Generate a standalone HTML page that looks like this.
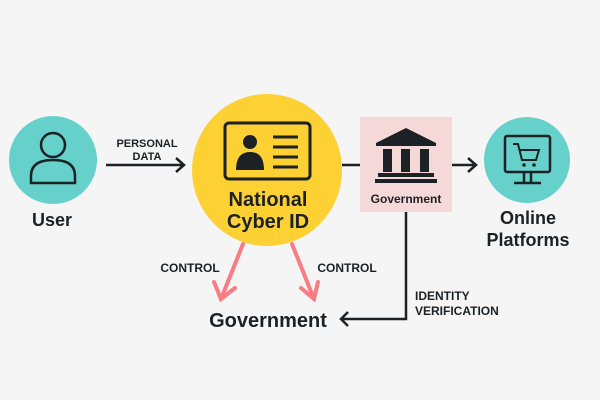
<!DOCTYPE html>
<html><head><meta charset="utf-8"><style>
html,body{margin:0;padding:0;background:#f5f5f5;}
svg{display:block;}
text{font-family:"Liberation Sans",sans-serif;font-weight:bold;fill:#1c2125;}
</style></head><body>
<svg width="600" height="400" viewBox="0 0 600 400">
<rect width="600" height="400" fill="#f5f5f5"/>
<!-- User -->
<circle cx="53" cy="160" r="44" fill="#66d0cb"/>
<circle cx="53" cy="145" r="12" fill="none" stroke="#1c2125" stroke-width="2.5"/>
<path d="M31 183 L31 176 Q31 160 53 160 Q75 160 75 176 L75 183 Z" fill="none" stroke="#1c2125" stroke-width="2.5"/>
<text x="52" y="226" font-size="18" text-anchor="middle">User</text>
<!-- personal data arrow -->
<line x1="106" y1="165" x2="183" y2="165" stroke="#1c2125" stroke-width="2.5"/>
<polyline points="176,158 184,165 176,172" fill="none" stroke="#1c2125" stroke-width="2.5"/>
<text x="147" y="147" font-size="11" text-anchor="middle">PERSONAL</text>
<text x="147" y="160" font-size="11" text-anchor="middle">DATA</text>
<!-- yellow -->
<ellipse cx="267" cy="170" rx="75" ry="76" fill="#fdd033"/>
<rect x="225" y="123" width="85" height="56" rx="4" fill="none" stroke="#1c2125" stroke-width="3"/>
<circle cx="250" cy="142" r="7" fill="#1c2125"/>
<path d="M236 170 Q236 152 250 152 Q264 152 264 170 Z" fill="#1c2125"/>
<g stroke="#1c2125" stroke-width="3"><line x1="273" y1="137" x2="298" y2="137"/><line x1="273" y1="147" x2="298" y2="147"/><line x1="273" y1="157" x2="298" y2="157"/><line x1="273" y1="167" x2="298" y2="167"/></g>
<text x="268" y="206" font-size="20" text-anchor="middle">National</text>
<text x="268" y="228" font-size="20" text-anchor="middle">Cyber ID</text>
<!-- to gov box -->
<line x1="342" y1="165" x2="360" y2="165" stroke="#1c2125" stroke-width="2.5"/>
<rect x="360" y="117" width="92" height="95" fill="#f5d9d8"/>
<polygon points="406,128 376,143 436,143" fill="#1c2125"/>
<rect x="376" y="143" width="60" height="3" fill="#1c2125"/>
<rect x="383" y="149" width="9" height="23" fill="#1c2125"/>
<rect x="401" y="149" width="9" height="23" fill="#1c2125"/>
<rect x="420" y="149" width="9" height="23" fill="#1c2125"/>
<rect x="378" y="173" width="56" height="4" fill="#1c2125"/>
<rect x="375" y="179" width="62" height="4" fill="#1c2125"/>
<text x="406" y="203" font-size="12" text-anchor="middle">Government</text>
<line x1="452" y1="165" x2="475" y2="165" stroke="#1c2125" stroke-width="2.5"/>
<polyline points="468,158 476,165 468,172" fill="none" stroke="#1c2125" stroke-width="2.5"/>
<!-- Online -->
<circle cx="527" cy="160" r="43" fill="#66d0cb"/>
<rect x="505" y="136" width="45" height="36" rx="2" fill="none" stroke="#1c2125" stroke-width="2.5"/>
<line x1="524" y1="172" x2="524" y2="182" stroke="#1c2125" stroke-width="2.5"/>
<line x1="531" y1="172" x2="531" y2="182" stroke="#1c2125" stroke-width="2.5"/>
<line x1="514" y1="183" x2="541" y2="183" stroke="#1c2125" stroke-width="2.5"/>
<polyline points="513,144 518,144 522,160 536,160 539,150 519,150" fill="none" stroke="#1c2125" stroke-width="2"/>
<circle cx="524" cy="165" r="1.8" fill="#1c2125"/><circle cx="534" cy="165" r="1.8" fill="#1c2125"/>
<text x="528" y="224" font-size="18" text-anchor="middle">Online</text>
<text x="528" y="246" font-size="18" text-anchor="middle">Platforms</text>
<!-- control arrows -->
<g stroke="#f97c84" stroke-width="4" fill="none" stroke-linecap="round">
<line x1="243" y1="244" x2="221" y2="299"/>
<polyline points="214,282 221,299 235,288"/>
<line x1="292" y1="244" x2="314" y2="299"/>
<polyline points="301,288 314,299 318,282"/>
</g>
<text x="190" y="272" font-size="12" text-anchor="middle">CONTROL</text>
<text x="347" y="272" font-size="12" text-anchor="middle">CONTROL</text>
<text x="268" y="327" font-size="20" text-anchor="middle">Government</text>
<!-- identity verification -->
<polyline points="406,212 406,319 341,319" fill="none" stroke="#1c2125" stroke-width="2.5"/>
<polyline points="348,312 341,319 348,326" fill="none" stroke="#1c2125" stroke-width="2.5"/>
<text x="415" y="300" font-size="12">IDENTITY</text>
<text x="415" y="315" font-size="12">VERIFICATION</text>
</svg>
</body></html>
